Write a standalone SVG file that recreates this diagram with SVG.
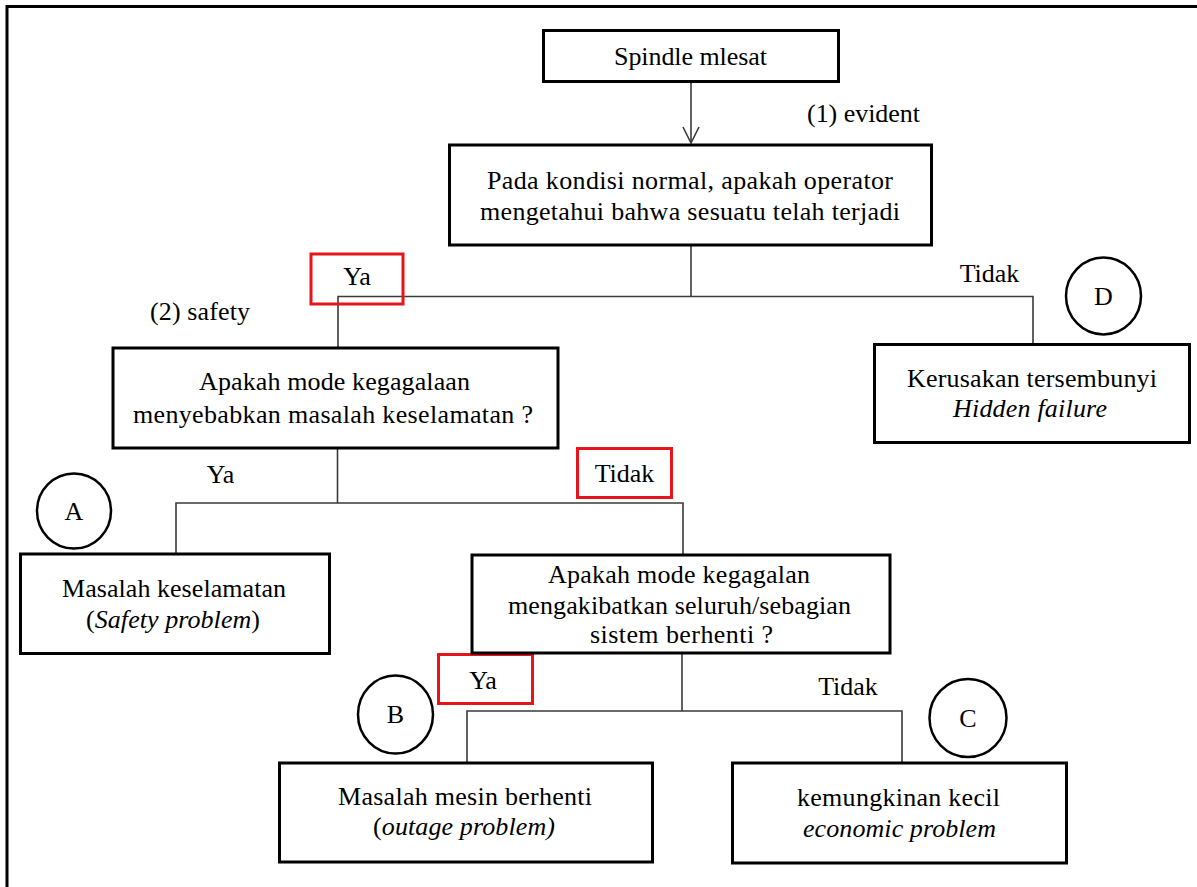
<svg xmlns="http://www.w3.org/2000/svg" width="1197" height="887" viewBox="0 0 1197 887">
<style>
  .box{fill:#fff;stroke:#000;stroke-width:3}
  .red{fill:none;stroke:#e8141b;stroke-width:3}
  .circ{fill:#fff;stroke:#000;stroke-width:2.5}
  .t{fill:#000;text-anchor:middle}
  .i{font-style:italic}
  .conn{fill:none;stroke:#3a3a3a;stroke-width:1.6}
</style>
<rect width="1197" height="887" fill="#fff"/>
<path d="M7,887 V6.5 H1197" fill="none" stroke="#000" stroke-width="3"/>

<g id="connectors">
  <line class="conn" x1="691" y1="82" x2="691" y2="143"/>
  <polyline class="conn" points="683,127 691,143 699,127"/>
  <line class="conn" x1="691" y1="245" x2="691" y2="296.5"/>
  <polyline class="conn" points="338,348 338,296.5 1033,296.5 1033,344"/>
  <line class="conn" x1="337.5" y1="448" x2="337.5" y2="503"/>
  <polyline class="conn" points="176,554 176,503 683,503 683,555"/>
  <line class="conn" x1="682" y1="653" x2="682" y2="711"/>
  <polyline class="conn" points="467,763 467,711 902,711 902,763"/>
</g>

<g font-family="'Liberation Serif', 'Times New Roman', 'DejaVu Serif', serif" font-size="26">
<g id="labels">
  <text class="t" x="863.5" y="122" textLength="113" lengthAdjust="spacing">(1) evident</text>
  <text class="t" x="200" y="320" textLength="100" lengthAdjust="spacing">(2) safety</text>
  <text class="t" x="989.5" y="282">Tidak</text>
  <text class="t" x="220.5" y="483">Ya</text>
  <text class="t" x="848" y="695">Tidak</text>
</g>

<g id="red-ya-top">
  <rect class="red" x="311" y="254" width="92" height="50"/>
  <text class="t" x="357" y="285">Ya</text>
</g>
<g id="red-tidak">
  <rect class="red" x="577.5" y="448.5" width="94" height="49"/>
  <text class="t" x="624.5" y="482">Tidak</text>
</g>
<g id="red-ya-bottom">
  <rect class="red" x="438.5" y="654.5" width="94" height="49"/>
  <text class="t" x="483" y="689">Ya</text>
</g>

<g id="n-spindle">
  <rect class="box" x="543.5" y="30.5" width="295" height="51"/>
  <text class="t" x="690.5" y="65" textLength="153" lengthAdjust="spacing">Spindle mlesat</text>
</g>

<g id="n-q1">
  <rect class="box" x="449.5" y="145" width="482" height="100"/>
  <text class="t" x="690" y="189" textLength="406" lengthAdjust="spacing">Pada kondisi normal, apakah operator</text>
  <text class="t" x="690" y="220" textLength="420" lengthAdjust="spacing">mengetahui bahwa sesuatu telah terjadi</text>
</g>

<g id="n-q2">
  <rect class="box" x="113" y="348" width="445" height="100"/>
  <text class="t" x="334.5" y="390" textLength="271" lengthAdjust="spacing">Apakah mode kegagalaan</text>
  <text class="t" x="333" y="423" textLength="400" lengthAdjust="spacing">menyebabkan masalah keselamatan ?</text>
</g>

<g id="n-d">
  <rect class="box" x="874.5" y="344.5" width="315" height="98"/>
  <text class="t" x="1032" y="387" textLength="250" lengthAdjust="spacing">Kerusakan tersembunyi</text>
  <text class="t i" x="1030" y="417" textLength="154" lengthAdjust="spacing">Hidden failure</text>
</g>
<g id="c-d">
  <ellipse class="circ" cx="1103.5" cy="296" rx="37.5" ry="38.5"/>
  <text class="t" x="1103.5" y="305">D</text>
</g>

<g id="n-a">
  <rect class="box" x="20.5" y="554" width="309" height="99.5"/>
  <text class="t" x="174" y="597" textLength="224" lengthAdjust="spacing">Masalah keselamatan</text>
  <text class="t" x="173" y="628" textLength="174" lengthAdjust="spacing">(<tspan class="i">Safety problem</tspan>)</text>
</g>
<g id="c-a">
  <ellipse class="circ" cx="74" cy="511" rx="37" ry="37.5"/>
  <text class="t" x="74" y="520">A</text>
</g>

<g id="n-q3">
  <rect class="box" x="472" y="555" width="418" height="98"/>
  <text class="t" x="679" y="583" textLength="262" lengthAdjust="spacing">Apakah mode kegagalan</text>
  <text class="t" x="679.5" y="614" textLength="343" lengthAdjust="spacing">mengakibatkan seluruh/sebagian</text>
  <text class="t" x="681.5" y="643" textLength="183" lengthAdjust="spacing">sistem berhenti ?</text>
</g>

<g id="n-b">
  <rect class="box" x="279.5" y="763" width="373" height="99"/>
  <text class="t" x="465" y="805" textLength="254" lengthAdjust="spacing">Masalah mesin berhenti</text>
  <text class="t" x="464" y="835" textLength="182" lengthAdjust="spacing">(<tspan class="i">outage problem)</tspan></text>
</g>
<g id="c-b">
  <ellipse class="circ" cx="395.5" cy="714.5" rx="37.5" ry="39"/>
  <text class="t" x="395.5" y="723">B</text>
</g>

<g id="n-c">
  <rect class="box" x="732.5" y="763" width="334" height="100"/>
  <text class="t" x="898.5" y="806" textLength="203" lengthAdjust="spacing">kemungkinan kecil</text>
  <text class="t i" x="899.5" y="837" textLength="193" lengthAdjust="spacing">economic problem</text>
</g>
<g id="c-c">
  <ellipse class="circ" cx="968" cy="718" rx="38.5" ry="39"/>
  <text class="t" x="968" y="727">C</text>
</g>
</g>
</svg>
